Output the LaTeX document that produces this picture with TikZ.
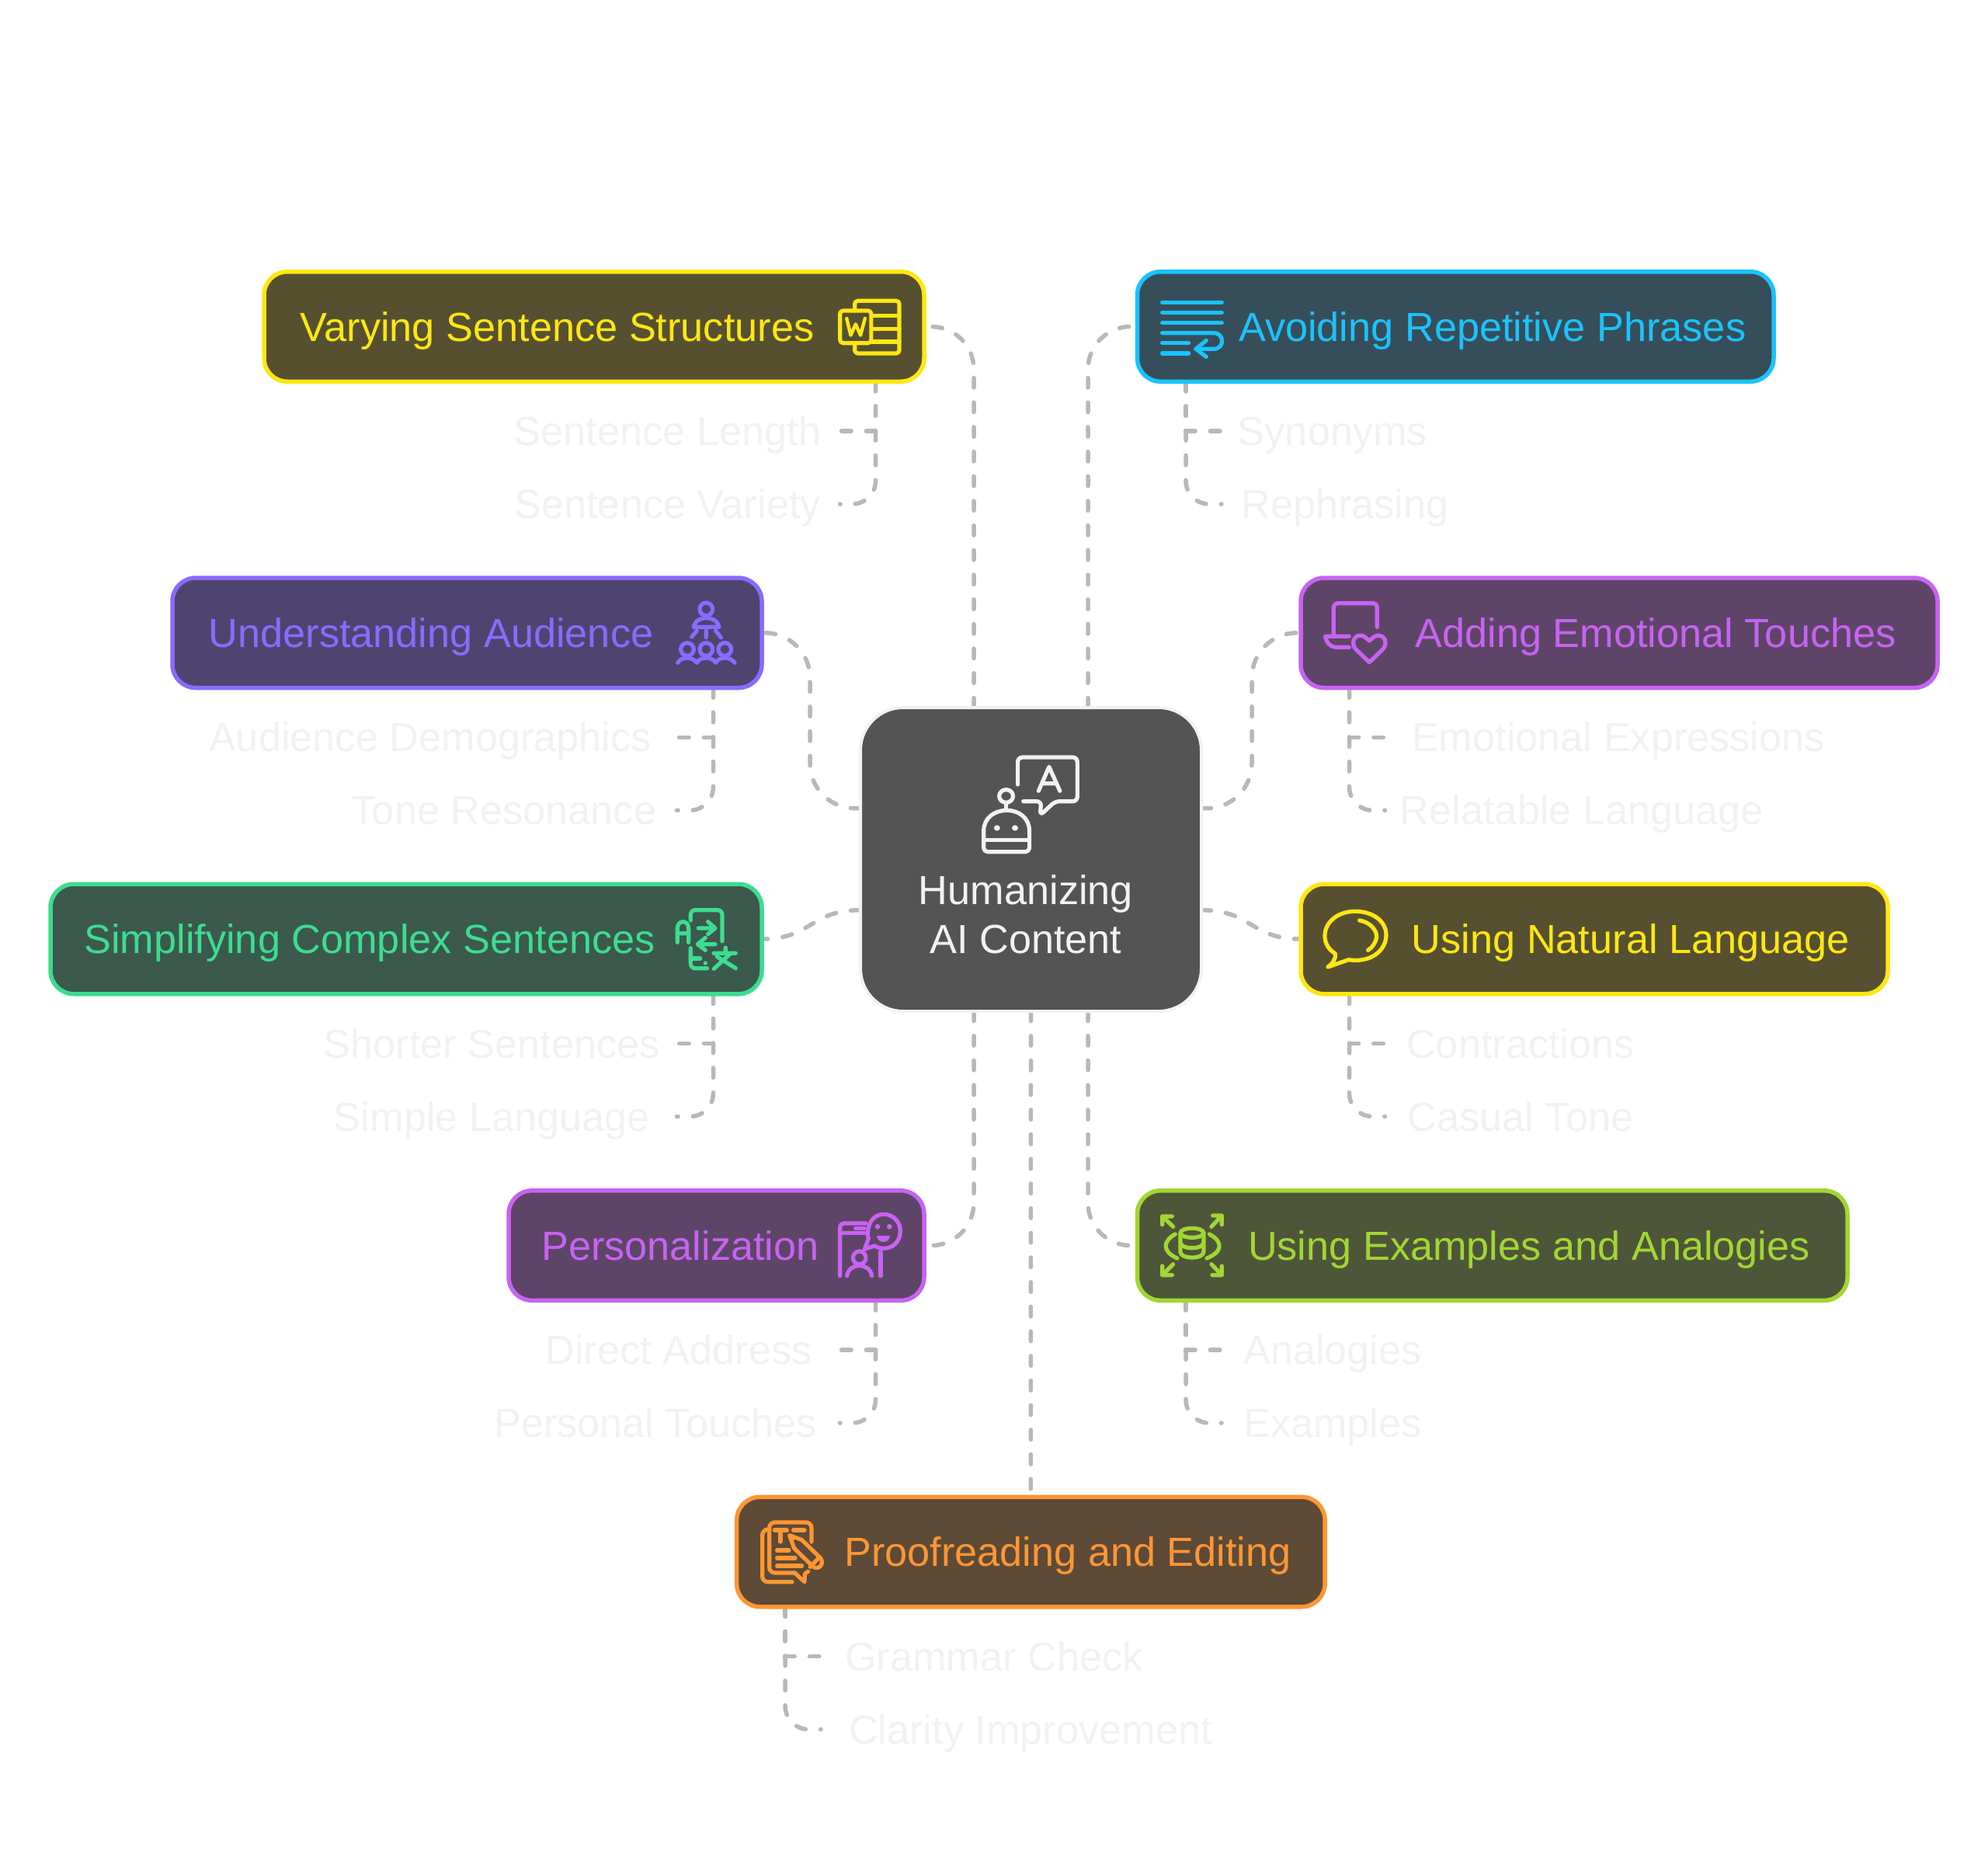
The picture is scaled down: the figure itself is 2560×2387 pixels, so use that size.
\documentclass[tikz,border=0pt]{standalone}
\usepackage{fontspec}
\setmainfont{Liberation Sans}
\usetikzlibrary{backgrounds}

\definecolor{myyellow}{HTML}{FFE711}
\definecolor{myyellowbg}{HTML}{565031}
\definecolor{mycyan}{HTML}{1AC3FF}
\definecolor{mycyanbg}{HTML}{364E59}
\definecolor{myviolet}{HTML}{8A6AFF}
\definecolor{myvioletbg}{HTML}{4E4470}
\definecolor{mypurple}{HTML}{C763F2}
\definecolor{mypurplebg}{HTML}{5E4568}
\definecolor{mygreen}{HTML}{3DDC91}
\definecolor{mygreenbg}{HTML}{3B594C}
\definecolor{mylime}{HTML}{A2D632}
\definecolor{mylimebg}{HTML}{4D5639}
\definecolor{myorange}{HTML}{FF9632}
\definecolor{myorangebg}{HTML}{5D4A37}
\definecolor{mymain}{HTML}{545454}
\definecolor{mylight}{HTML}{F2F2F2}
\definecolor{mylink}{HTML}{B8B8B8}

\tikzset{
  topicbox/.style 2 args={draw=#1, fill=#2, rounded corners=30pt, line width=5.5pt,
    outer sep=0pt, inner sep=0pt, minimum height=141.5pt},
  topictext/.style={text=#1, inner sep=0pt, text height=37pt, text depth=0pt,
    font=\fontsize{52.3}{62.7}\selectfont},
  sublabel/.style={text=mylight, inner sep=0pt, outer sep=0pt, text height=37pt, text depth=0pt,
    font=\fontsize{52.3}{62.7}\selectfont},
  link/.style={draw=mylink, line width=5.5pt, line cap=round, dash pattern=on 12.5pt off 19.2pt},
  icon/.style={draw=#1, line width=5.2pt, line cap=round, line join=round},
  iconzoom/.style 2 args={shift={(#1,#2)}, x=0.3333pt, y=-0.3333pt}
}

\begin{document}
\begin{tikzpicture}[x=1pt, y=-1pt]
  % Parameters
  \def\rowA{420.5}    % Row centres
  \def\rowB{814.8}
  \def\rowC{1209}
  \def\rowD{1603.6}
  \def\rowE{1998}
  \def\subA{134.5}    % Upper sub label below row centre
  \def\subB{228.5}    % Lower sub label below row centre
  \def\spine{62.5}    % Tree spine from box corner
  \def\stem{146}      % Outer stems from main box corner
  \useasboundingbox (0,0) rectangle (2560,2387);

  % Main box
  \node[draw=mylight, fill=mymain, rounded corners=55pt, line width=4pt, outer sep=0pt,
    minimum width=439pt, minimum height=391pt] (main) at (1327.5,1106.5) {};
  \node[text=mylight, inner sep=0pt, align=center, font=\fontsize{52.3}{62.7}\selectfont]
    (maintitle) at (1321,1177.5) {Humanizing\\AI Content};

  % Topic boxes
  \node[topicbox={myyellow}{myyellowbg}, minimum width=850pt] (varying) at (765,\rowA) {};
  \node[topicbox={mycyan}{mycyanbg}, minimum width=819.5pt] (avoiding) at (1874.25,\rowA) {};
  \node[topicbox={myviolet}{myvioletbg}, minimum width=759pt] (understanding) at (601.5,\rowB) {};
  \node[topicbox={mypurple}{mypurplebg}, minimum width=820pt] (adding) at (2085,\rowB) {};
  \node[topicbox={mygreen}{mygreenbg}, minimum width=916pt] (simplifying) at (523,\rowC) {};
  \node[topicbox={myyellow}{myyellowbg}, minimum width=756pt] (natural) at (2053,\rowC) {};
  \node[topicbox={mypurple}{mypurplebg}, minimum width=535pt] (personal) at (922.5,\rowD) {};
  \node[topicbox={mylime}{mylimebg}, minimum width=914.5pt] (examples) at (1921.75,\rowD) {};
  \node[topicbox={myorange}{myorangebg}, minimum width=757.5pt] (proofing) at (1327.4,\rowE) {};

  % Topic texts
  \node[topictext=myyellow] (varyingtext) at (717.5,\rowA) {Varying Sentence Structures};
  \node[topictext=mycyan] (avoidingtext) at (1921.7,\rowA) {Avoiding Repetitive Phrases};
  \node[topictext=myviolet] (understandingtext) at (555,\rowB) {Understanding Audience};
  \node[topictext=mypurple] (addingtext) at (2132,\rowB) {Adding Emotional Touches};
  \node[topictext=mygreen] (simplifyingtext) at (476,\rowC) {Simplifying Complex Sentences};
  \node[topictext=myyellow] (naturaltext) at (2100,\rowC) {Using Natural Language};
  \node[topictext=mypurple] (personaltext) at (876,\rowD) {Personalization};
  \node[topictext=mylime] (examplestext) at (1969,\rowD) {Using Examples and Analogies};
  \node[topictext=myorange] (proofingtext) at (1375,\rowE) {Proofreading and Editing};

  % Sub labels, the width puts the node side on the connector end
  \node[sublabel, minimum width=444pt] (length) at (859.6,\rowA+\subA) {Sentence Length};
  \node[sublabel, minimum width=444pt] (variety) at (859.6,\rowA+\subB) {Sentence Variety};
  \node[sublabel, minimum width=286pt] (synonyms) at (1716,\rowA+\subA) {Synonyms};
  \node[sublabel, minimum width=318pt] (rephrasing) at (1732,\rowA+\subB) {Rephrasing};
  \node[sublabel, minimum width=635pt] (demographics) at (554,\rowB+\subA) {Audience Demographics};
  \node[sublabel, minimum width=445pt] (tone) at (649,\rowB+\subB) {Tone Resonance};
  \node[sublabel, minimum width=601pt] (expressions) at (2084,\rowB+\subA) {Emotional Expressions};
  \node[sublabel, minimum width=507pt] (relatable) at (2037,\rowB+\subB) {Relatable Language};
  \node[sublabel, minimum width=476pt] (shorter) at (633.5,\rowC+\subA) {Shorter Sentences};
  \node[sublabel, minimum width=476pt] (simple) at (633.5,\rowC+\subB) {Simple Language};
  \node[sublabel, minimum width=349pt] (contractions) at (1958,\rowC+\subA) {Contractions};
  \node[sublabel, minimum width=349pt] (casual) at (1958,\rowC+\subB) {Casual Tone};
  \node[sublabel, minimum width=415pt] (direct) at (874,\rowD+\subA) {Direct Address};
  \node[sublabel, minimum width=475pt] (touches) at (844,\rowD+\subB) {Personal Touches};
  \node[sublabel, minimum width=286pt] (analogies) at (1716,\rowD+\subA) {Analogies};
  \node[sublabel, minimum width=286pt] (instances) at (1716,\rowD+\subB) {Examples};
  \node[sublabel, minimum width=446pt] (grammar) at (1280,\rowE+\subA) {Grammar Check};
  \node[sublabel, minimum width=540pt] (clarity) at (1327,\rowE+\subB) {Clarity Improvement};

  \begin{scope}[on background layer]
    % Main box to topic boxes
    \draw[link, rounded corners=55pt] (main.north west) ++(\stem,0) |- (varying.east);
    \draw[link, rounded corners=55pt] (main.north east) ++(-\stem,0) |- (avoiding.west);
    \draw[link, rounded corners=58pt] (main.north west) ++(0,129.7) -- ++(-65,0) |- (understanding.east);
    \draw[link, rounded corners=58pt] (main.north east) ++(0,129.7) -- ++(65,0) |- (adding.west);
    \draw[link] (main.north west) ++(0,260.7) .. controls +(-65,0) and +(65,0) .. (simplifying.east);
    \draw[link] (main.north east) ++(0,260.7) .. controls +(65,0) and +(-65,0) .. (natural.west);
    \draw[link, rounded corners=55pt] (main.south west) ++(\stem,0) |- (personal.east);
    \draw[link, rounded corners=55pt] (main.south east) ++(-\stem,0) |- (examples.west);
    \draw[link] (main.south) -- (proofing.north);
    % Left trees
    \draw[link] (varying.south east) ++(-\spine,0) |- (length.east);
    \draw[link, rounded corners=30pt] (varying.south east) ++(-\spine,0) |- (variety.east);
    \draw[link] (understanding.south east) ++(-\spine,0) |- (demographics.east);
    \draw[link, rounded corners=30pt] (understanding.south east) ++(-\spine,0) |- (tone.east);
    \draw[link] (simplifying.south east) ++(-\spine,0) |- (shorter.east);
    \draw[link, rounded corners=30pt] (simplifying.south east) ++(-\spine,0) |- (simple.east);
    \draw[link] (personal.south east) ++(-\spine,0) |- (direct.east);
    \draw[link, rounded corners=30pt] (personal.south east) ++(-\spine,0) |- (touches.east);
    % Right trees
    \draw[link] (avoiding.south west) ++(\spine,0) |- (synonyms.west);
    \draw[link, rounded corners=30pt] (avoiding.south west) ++(\spine,0) |- (rephrasing.west);
    \draw[link] (adding.south west) ++(\spine,0) |- (expressions.west);
    \draw[link, rounded corners=30pt] (adding.south west) ++(\spine,0) |- (relatable.west);
    \draw[link] (natural.south west) ++(\spine,0) |- (contractions.west);
    \draw[link, rounded corners=30pt] (natural.south west) ++(\spine,0) |- (casual.west);
    \draw[link] (examples.south west) ++(\spine,0) |- (analogies.west);
    \draw[link, rounded corners=30pt] (examples.south west) ++(\spine,0) |- (instances.west);
    \draw[link] (proofing.south west) ++(\spine,0) |- (grammar.west);
    \draw[link, rounded corners=30pt] (proofing.south west) ++(\spine,0) |- (clarity.west);
  \end{scope}

  % Main icon
  \begin{scope}[shift={(1050,880)}, x=0.357pt, y=-0.3333pt]
    \draw[icon=mylight, rounded corners=6pt] (730,390) -- (730,285) -- (945,285) -- (945,455) -- (865,455) -- (810,510) -- (815,455) -- (750,455);
    \draw[icon=mylight] (805,415) -- (843,322) -- (882,415) (817,386) -- (870,386);
    \draw[icon=mylight] (688,435) circle [radius=25] (688,460) -- (688,487);
    \draw[icon=mylight] (607,570) .. controls (607,520) and (645,490) .. (690,490) .. controls (735,490) and (772,520) .. (772,570);
    \draw[icon=mylight, rounded corners=5pt] (607,570) -- (607,650) -- (772,650) -- (772,570);
    \draw[icon=mylight] (607,605) -- (772,605);
    \fill[mylight] (655,558) circle [radius=11] (720,558) circle [radius=11];
  \end{scope}

  % Varying icon
  \begin{scope}[shift={(320,330)}, x=0.574pt, y=-0.3333pt]
    \draw[icon=myyellow, rounded corners=4pt] (1360,210) -- (1360,172) -- (1460,172) -- (1460,375) -- (1360,375) -- (1360,335);
    \draw[icon=myyellow] (1400,230) -- (1460,230) (1400,280) -- (1460,280) (1400,330) -- (1460,330);
    \draw[icon=myyellow, rounded corners=4pt] (1327,210) rectangle (1397,335);
    \draw[icon=myyellow, line width=4.4pt] (1342,240) -- (1351,305) -- (1362,262) -- (1373,305) -- (1383,240);
  \end{scope}

  % Avoiding icon
  \begin{scope}[iconzoom={1440}{330}]
    \draw[icon=mycyan] (170,178) -- (400,178) (170,217) -- (400,217) (170,257) -- (400,257);
    \draw[icon=mycyan] (170,296) -- (368,296) .. controls (412,296) and (412,358) .. (368,358) -- (300,358);
    \draw[icon=mycyan] (340,325) -- (300,358) -- (340,388);
    \draw[icon=mycyan] (170,335) -- (272,335) (170,375) -- (272,375);
  \end{scope}

  % Understanding icon
  \begin{scope}[iconzoom={840}{730}]
    \draw[icon=myviolet] (208,163) circle [radius=25];
    \draw[icon=myviolet] (160,232) .. controls (165,205) and (190,197) .. (208,197) .. controls (228,197) and (252,205) .. (258,232) -- cycle;
    \draw[icon=myviolet] (152,270) -- (172,247) (208,247) -- (208,272) (245,247) -- (265,272);
    \draw[icon=myviolet] (135,318) circle [radius=25] (208,318) circle [radius=25] (280,318) circle [radius=25];
    \draw[icon=myviolet] (98,370) .. controls (112,345) and (155,345) .. (172,370) .. controls (185,345) and (230,345) .. (245,370) .. controls (258,345) and (302,345) .. (318,370);
  \end{scope}

  % Adding icon
  \begin{scope}[iconzoom={1680}{730}]
    \draw[icon=mypurple, rounded corners=5pt] (112,265) -- (112,140) -- (280,140) -- (280,232);
    \draw[icon=mypurple] (80,268) -- (172,268) (80,268) .. controls (85,295) and (100,310) .. (125,310) -- (172,310);
    \draw[icon=mypurple] (250,368) -- (198,318) .. controls (170,285) and (205,250) .. (232,270) -- (250,285) -- (268,270) .. controls (295,250) and (330,285) .. (302,318) -- cycle;
  \end{scope}

  % Simplifying icon
  \begin{scope}[iconzoom={840}{1130}]
    \draw[icon=mygreen] (97,250) -- (97,195) .. controls (97,162) and (140,162) .. (140,195) -- (140,250) (97,215) -- (140,215);
    \draw[icon=mygreen, rounded corners=6pt] (148,165) -- (148,125) -- (270,125) -- (270,245);
    \draw[icon=mygreen] (178,195) -- (240,195) (215,170) -- (243,195) -- (215,218);
    \draw[icon=mygreen] (243,257) -- (178,257) (205,232) -- (175,257) -- (205,280);
    \draw[icon=mygreen, rounded corners=6pt] (148,272) -- (148,350) -- (212,350);
    \draw[icon=mygreen] (148,312) -- (185,312);
    \fill[mygreen] (205,330) circle [radius=8];
    \draw[icon=mygreen] (237,292) -- (322,292) (283,270) -- (283,290) (250,305) -- (322,350) (300,295) -- (238,352);
  \end{scope}

  % Natural icon
  \begin{scope}[iconzoom={1680}{1130}]
    \draw[icon=myyellow] (170,317) .. controls (250,330) and (315,285) .. (315,222) .. controls (315,165) and (260,130) .. (195,130) .. controls (130,130) and (78,170) .. (78,225) .. controls (78,255) and (95,280) .. (118,293) .. controls (122,315) and (105,335) .. (90,345) -- cycle;
    \draw[icon=myyellow] (212,165) .. controls (255,172) and (280,205) .. (278,230) .. controls (275,250) and (262,270) .. (245,280);
  \end{scope}

  % Personalization icon
  \begin{scope}[iconzoom={1060}{1530}]
    \draw[icon=mypurple, rounded corners=5pt] (65,338) -- (65,135) -- (165,135);
    \draw[icon=mypurple] (65,172) -- (160,172) (125,155) -- (160,155) (222,245) -- (222,338);
    \draw[icon=mypurple] (175,195) .. controls (165,145) and (190,100) .. (233,100) .. controls (272,100) and (298,130) .. (298,165) .. controls (298,205) and (270,232) .. (233,232) .. controls (222,232) and (208,228) .. (198,222) -- (160,235) -- cycle;
    \fill[mypurple] (210,148) circle [radius=10] (256,148) circle [radius=10];
    \fill[mypurple] (207,183) -- (258,183) .. controls (255,215) and (210,215) .. (207,183) -- cycle;
    \draw[icon=mypurple] (140,268) circle [radius=25];
    \draw[icon=mypurple] (92,338) .. controls (100,285) and (180,285) .. (188,338);
  \end{scope}

  % Examples icon
  \begin{scope}[iconzoom={1480}{1530}]
    \draw[icon=mylime] (50,108) -- (92,148) (50,140) -- (50,108) -- (88,108);
    \draw[icon=mylime] (280,105) -- (240,148) (245,105) -- (280,105) -- (280,140);
    \draw[icon=mylime] (50,335) -- (92,293) (50,300) -- (50,335) -- (88,335);
    \draw[icon=mylime] (280,335) -- (240,293) (280,300) -- (280,335) -- (243,335);
    \draw[icon=mylime] (100,177) .. controls (50,205) and (50,245) .. (108,270);
    \draw[icon=mylime] (232,177) .. controls (285,205) and (285,245) .. (222,270);
    \draw[icon=mylime] (165,172) ellipse [x radius=45, y radius=18];
    \draw[icon=mylime] (120,172) -- (120,245) .. controls (120,275) and (210,275) .. (210,245) -- (210,172);
    \draw[icon=mylime] (120,208) .. controls (120,238) and (210,238) .. (210,208);
  \end{scope}

  % Proofreading icon
  \begin{scope}[iconzoom={960}{1930}]
    \draw[icon=myorange, rounded corners=7pt] (78,118) -- (65,118) -- (65,320) -- (180,320);
    \draw[icon=myorange, rounded corners=7pt] (255,165) -- (255,90) -- (92,90) -- (92,285) -- (190,285);
    \draw[icon=myorange] (190,285) -- (228,320) -- (230,288) -- (242,280);
    \draw[icon=myorange] (112,120) -- (160,120) (135,120) -- (135,165) (185,120) -- (228,120);
    \draw[icon=myorange] (122,198) -- (168,198) (122,228) -- (192,228) (122,258) -- (218,258);
    \draw[icon=myorange] (170,140) -- (218,158) -- (290,228) .. controls (305,250) and (285,275) .. (262,262) -- (188,190) -- cycle;
    \draw[icon=myorange] (250,262) -- (285,225);
    \fill[myorange] (170,140) -- (195,150) -- (180,168) -- cycle;
  \end{scope}
\end{tikzpicture}
\end{document}
